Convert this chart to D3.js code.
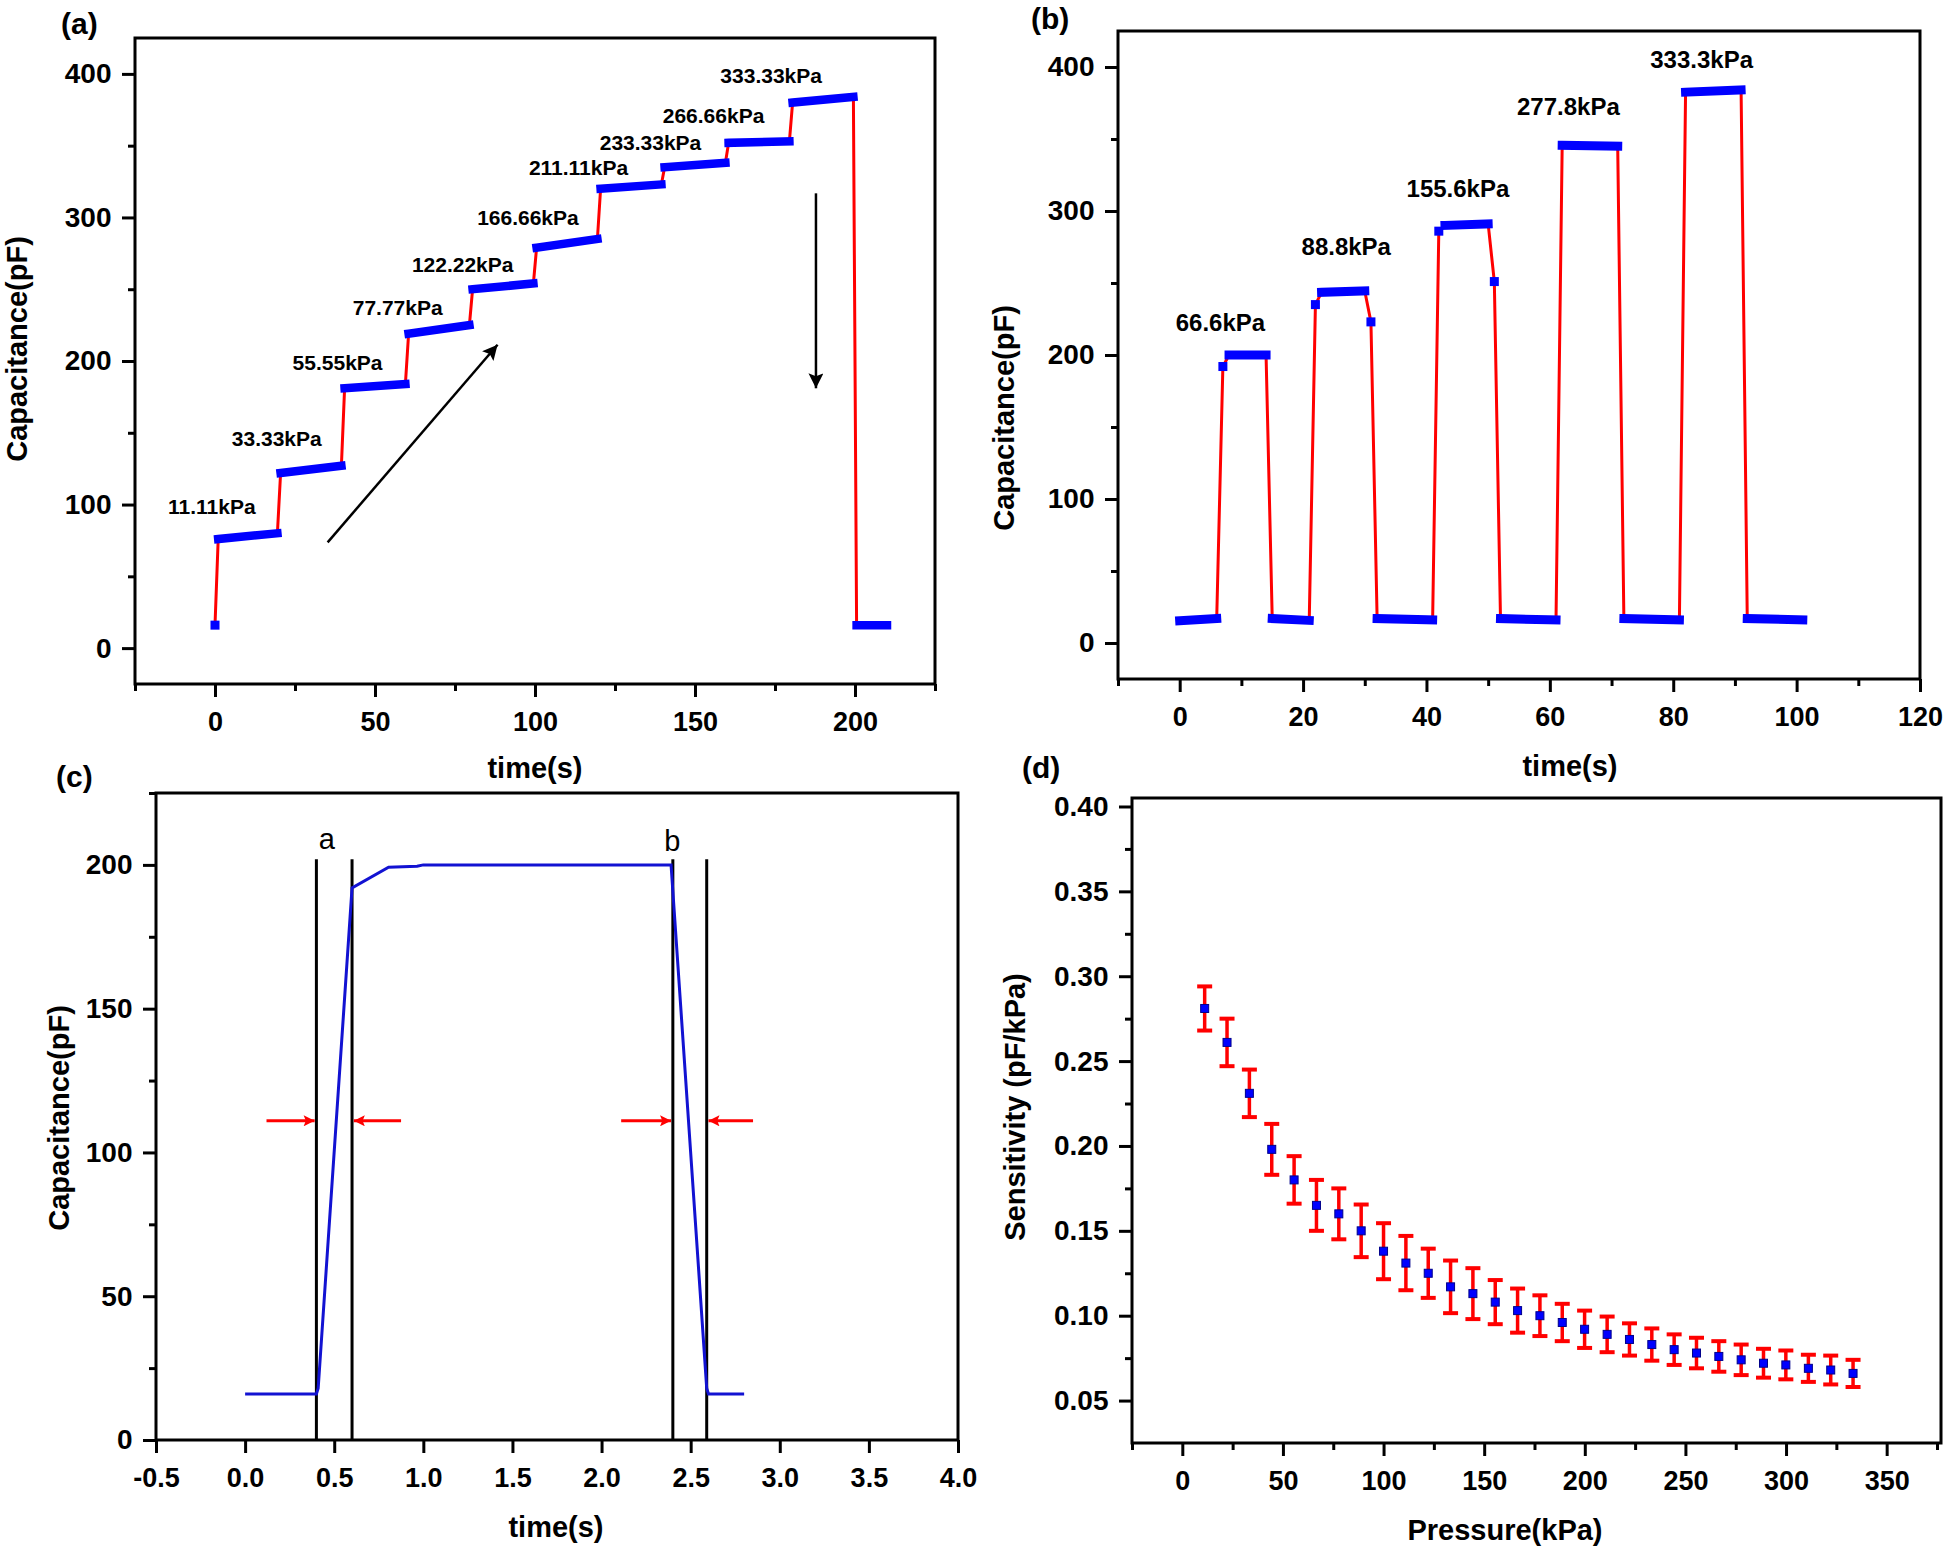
<!DOCTYPE html>
<html><head><meta charset="utf-8">
<script src="https://cdn.jsdelivr.net/npm/d3@7"></script>
<style>
body{margin:0;background:#fff}
svg{display:block}
text{font-family:"Liberation Sans",Arial,Helvetica,sans-serif}
</style>
</head><body>
<svg id="chart" width="1949" height="1553"></svg>
<script>
// ================= DATA =================
// (a) stepwise loading: each pressure step held ~20 s
const stepPressureA = ["11.11kPa","33.33kPa","55.55kPa","77.77kPa","122.22kPa","166.66kPa","211.11kPa","233.33kPa","266.66kPa","333.33kPa"];
const stepLabelTimeA = [-1.0, 19.3, 38.3, 57.1, 77.4, 97.8, 113.6, 136.1, 155.8, 173.8];
const stepLabelCapA  = [99, 146, 199, 237, 267, 300, 335, 352, 371, 399];
const firstTimeA = 0, firstCapA = 16;
const holdStartTimeA = [1, 20.5, 40.5, 60.5, 80.5, 100.5, 120.5, 140.5, 160.5, 180.5, 200.5];
const holdEndTimeA   = [19.5, 39.5, 59.5, 79.5, 99.5, 119.5, 139.5, 159.5, 179.5, 199.5, 210];
const holdStartCapA  = [76, 122, 181, 219, 250, 279, 320, 335, 352, 380, 16];
const holdEndCapA    = [80, 127, 184, 225, 254, 285, 323, 338, 353, 384, 16];
const arrowUpA   = [[35.2, 73.7], [88.3, 211.3]];
const arrowDownA = [[187.8, 316.8], [187.8, 181]];
const xTicksA = [0, 50, 100, 150, 200], xMinorA = [-25, 25, 75, 125, 175, 225];
const yTicksA = [0, 100, 200, 300, 400], yMinorA = [50, 150, 250, 350];

// (b) repeated loading/unloading cycles
const pulsePressureB = ["66.6kPa","88.8kPa","155.6kPa","277.8kPa","333.3kPa"];
const pulseLabelTimeB = [6.6, 27.0, 45.1, 63.0, 84.6];
const pulseLabelCapB  = [222.7, 275.7, 315.5, 372.7, 405.6];
const holdStartTimeB = [0, 8, 15, 23, 32, 43, 52, 62, 72, 82, 92];
const holdEndTimeB   = [6, 14, 21, 30, 41, 50, 61, 71, 81, 91, 101];
const holdStartCapB  = [15.5, 200, 17, 243.5, 17, 290, 17, 345.6, 17, 382.5, 17];
const holdEndCapB    = [17, 200, 15.7, 244.5, 16, 291, 16, 345, 16, 384, 16];
const singleTimeB = [7, 22, 31, 42, 51];
const singleCapB  = [192, 235, 223, 286, 251];
const xTicksB = [0, 20, 40, 60, 80, 100, 120], xMinorB = [-10, 10, 30, 50, 70, 90, 110];
const yTicksB = [0, 100, 200, 300, 400], yMinorB = [50, 150, 250, 350];

// (c) single response curve
const timeC = [0, 0.4, 0.41, 0.6, 0.805, 0.965, 1.0, 2.39, 2.59, 2.6, 2.8];
const capC  = [16, 16, 18, 192, 199.2, 199.5, 200, 200, 18, 16, 16];
const markerLineTimeC = [0.4, 0.6, 2.4, 2.59];
const markerLineTopC = 202;
const markerLetterC = ["a", "b"], markerLetterTimeC = [0.458, 2.397], markerLetterCapC = [205.5, 204.8];
const redArrowFromC = [0.12, 0.875, 2.11, 2.85];
const redArrowToC   = [0.39, 0.61, 2.39, 2.6];
const redArrowCapC  = 111;
const xTicksC = [-0.5, 0, 0.5, 1, 1.5, 2, 2.5, 3, 3.5, 4], xMinorC = [];
const yTicksC = [0, 50, 100, 150, 200], yMinorC = [25, 75, 125, 175, 225];

// (d) sensitivity vs pressure
const pressureD = [11.11, 22.22, 33.33, 44.44, 55.55, 66.66, 77.77, 88.88, 99.99, 111.1, 122.2, 133.3, 144.4, 155.5, 166.6, 177.7, 188.8, 199.9, 211.1, 222.2, 233.3, 244.4, 255.5, 266.6, 277.7, 288.8, 299.9, 311.1, 322.2, 333.3];
const sensD = [0.281, 0.261, 0.231, 0.198, 0.180, 0.165, 0.160, 0.150, 0.138, 0.131, 0.125, 0.117, 0.113, 0.108, 0.103, 0.100, 0.096, 0.092, 0.089, 0.086, 0.083, 0.080, 0.078, 0.076, 0.074, 0.072, 0.071, 0.069, 0.068, 0.066];
const errD  = [0.013, 0.014, 0.014, 0.015, 0.014, 0.015, 0.015, 0.0155, 0.0165, 0.016, 0.0145, 0.0155, 0.015, 0.013, 0.013, 0.012, 0.011, 0.011, 0.0105, 0.0095, 0.0095, 0.009, 0.009, 0.009, 0.009, 0.0085, 0.0085, 0.008, 0.0085, 0.008];
const xTicksD = [0, 50, 100, 150, 200, 250, 300, 350], xMinorD = [-25, 25, 75, 125, 175, 225, 275, 325, 375];
const yTicksD = [0.05, 0.10, 0.15, 0.20, 0.25, 0.30, 0.35, 0.40], yMinorD = [0.075, 0.125, 0.175, 0.225, 0.275, 0.325, 0.375];

// ================= DRAWING =================
const svg = d3.select("#chart");
svg.append("rect").attr("width", 1949).attr("height", 1553).attr("fill", "#fff");
const BLUE = "#0000ff", RED = "#ff0000";
const defs = svg.append("defs");
function arrowMarker(id, color, len, wid) {
  defs.append("marker").attr("id", id).attr("viewBox", "0 0 10 10")
    .attr("refX", 10).attr("refY", 5).attr("markerUnits", "userSpaceOnUse")
    .attr("markerWidth", len).attr("markerHeight", wid).attr("orient", "auto")
    .append("path").attr("d", "M0,0 L10,5 L0,10 L2,5 z").attr("fill", color);
}
arrowMarker("arrowBlack", "#000", 24, 15);
arrowMarker("arrowRed", RED, 12, 11);

function makePanel(c) {
  const x = d3.scaleLinear().domain(c.xDomain).range([c.left, c.right]);
  const y = d3.scaleLinear().domain(c.yDomain).range([c.bottom, c.top]);
  const g = svg.append("g");
  const style = size => sel => {
    sel.select(".domain").remove();
    sel.selectAll(".tick line").attr("stroke", "#000").attr("stroke-width", 3);
    sel.selectAll("text").attr("font-size", size).attr("font-weight", "bold")
      .attr("font-family", '"Liberation Sans",Arial,sans-serif').attr("fill", "#000");
  };
  g.append("g").attr("transform", `translate(0,${c.bottom})`)
    .call(d3.axisBottom(x).tickValues(c.xMinor).tickSize(7).tickFormat(""))
    .call(style(26));
  g.append("g").attr("transform", `translate(0,${c.bottom})`)
    .call(d3.axisBottom(x).tickValues(c.xTicks).tickSize(13).tickPadding(14.5).tickFormat(c.xFmt))
    .call(style(27));
  g.append("g").attr("transform", `translate(${c.left},0)`)
    .call(d3.axisLeft(y).tickValues(c.yMinor).tickSize(7).tickFormat(""))
    .call(style(28));
  g.append("g").attr("transform", `translate(${c.left},0)`)
    .call(d3.axisLeft(y).tickValues(c.yTicks).tickSize(13).tickPadding(10.5).tickFormat(c.yFmt))
    .call(style(28));
  g.append("rect").attr("x", c.left).attr("y", c.top)
    .attr("width", c.right - c.left).attr("height", c.bottom - c.top)
    .attr("fill", "none").attr("stroke", "#000").attr("stroke-width", 3);
  // titles
  g.append("text").attr("x", c.xTitlePos[0]).attr("y", c.xTitlePos[1]).attr("text-anchor", "middle")
    .attr("font-size", 29).attr("font-weight", "bold").text(c.xTitle);
  g.append("text").attr("transform", `translate(${c.yTitlePos[0]},${c.yTitlePos[1]}) rotate(-90)`)
    .attr("text-anchor", "middle").attr("font-size", 29).attr("font-weight", "bold").text(c.yTitle);
  g.append("text").attr("x", c.letterPos[0]).attr("y", c.letterPos[1])
    .attr("font-size", 30).attr("font-weight", "bold").text(c.letter);
  const plot = g.append("g");
  return {x, y, g: plot};
}
const intFmt = d => String(d);

// ----- (a)
const A = makePanel({
  left: 135, right: 935, top: 38, bottom: 684,
  xDomain: [-25, 225], yDomain: [-25, 425],
  xTicks: xTicksA, xMinor: xMinorA, yTicks: yTicksA, yMinor: yMinorA,
  xFmt: intFmt, yFmt: intFmt,
  xTitle: "time(s)", yTitle: "Capacitance(pF)",
  xTitlePos: [535, 778], yTitlePos: [27, 349], letter: "(a)", letterPos: [61, 34]
});
const redPtsA = [[firstTimeA, firstCapA]];
holdStartTimeA.forEach((t, i) => { redPtsA.push([t, holdStartCapA[i]]); redPtsA.push([holdEndTimeA[i], holdEndCapA[i]]); });
const lineA = d3.line().x(d => A.x(d[0])).y(d => A.y(d[1]));
A.g.append("path").attr("d", lineA(redPtsA)).attr("fill", "none").attr("stroke", RED).attr("stroke-width", 3);
holdStartTimeA.forEach((t, i) => {
  A.g.append("path").attr("d", lineA([[t, holdStartCapA[i]], [holdEndTimeA[i], holdEndCapA[i]]]))
    .attr("stroke", BLUE).attr("stroke-width", 8.5).attr("stroke-linecap", "square").attr("fill", "none");
});
A.g.append("rect").attr("x", A.x(firstTimeA) - 4.5).attr("y", A.y(firstCapA) - 4.5)
  .attr("width", 9).attr("height", 9).attr("fill", BLUE);
stepPressureA.forEach((s, i) => {
  A.g.append("text").attr("x", A.x(stepLabelTimeA[i])).attr("y", A.y(stepLabelCapA[i])).attr("dy", "0.36em")
    .attr("text-anchor", "middle").attr("font-size", 21).attr("font-weight", "bold").text(s);
});
[arrowUpA, arrowDownA].forEach(ar => {
  A.g.append("path").attr("d", lineA(ar)).attr("stroke", "#000").attr("stroke-width", 2.5)
    .attr("fill", "none").attr("marker-end", "url(#arrowBlack)");
});

// ----- (b)
const B = makePanel({
  left: 1118, right: 1920, top: 31, bottom: 679,
  xDomain: [-10, 120], yDomain: [-25, 425],
  xTicks: xTicksB, xMinor: xMinorB, yTicks: yTicksB, yMinor: yMinorB,
  xFmt: intFmt, yFmt: intFmt,
  xTitle: "time(s)", yTitle: "Capacitance(pF)",
  xTitlePos: [1570, 776], yTitlePos: [1014, 418], letter: "(b)", letterPos: [1031, 29]
});
const lineB = d3.line().x(d => B.x(d[0])).y(d => B.y(d[1]));
const redPtsB = [];
holdStartTimeB.forEach((t, i) => { redPtsB.push([t, holdStartCapB[i]]); redPtsB.push([holdEndTimeB[i], holdEndCapB[i]]); });
singleTimeB.forEach((t, i) => redPtsB.push([t, singleCapB[i]]));
redPtsB.sort((p, q) => p[0] - q[0]);
B.g.append("path").attr("d", lineB(redPtsB)).attr("fill", "none").attr("stroke", RED).attr("stroke-width", 3);
holdStartTimeB.forEach((t, i) => {
  B.g.append("path").attr("d", lineB([[t, holdStartCapB[i]], [holdEndTimeB[i], holdEndCapB[i]]]))
    .attr("stroke", BLUE).attr("stroke-width", 9).attr("stroke-linecap", "square").attr("fill", "none");
});
singleTimeB.forEach((t, i) => {
  B.g.append("rect").attr("x", B.x(t) - 4.5).attr("y", B.y(singleCapB[i]) - 4.5)
    .attr("width", 9).attr("height", 9).attr("fill", BLUE);
});
pulsePressureB.forEach((s, i) => {
  B.g.append("text").attr("x", B.x(pulseLabelTimeB[i])).attr("y", B.y(pulseLabelCapB[i])).attr("dy", "0.36em")
    .attr("text-anchor", "middle").attr("font-size", 24).attr("font-weight", "bold").text(s);
});

// ----- (c)
const C = makePanel({
  left: 156, right: 958, top: 793, bottom: 1440,
  xDomain: [-0.5, 4.0], yDomain: [0, 225],
  xTicks: xTicksC, xMinor: xMinorC, yTicks: yTicksC, yMinor: yMinorC,
  xFmt: d => d.toFixed(1), yFmt: intFmt,
  xTitle: "time(s)", yTitle: "Capacitance(pF)",
  xTitlePos: [556, 1537], yTitlePos: [69, 1118], letter: "(c)", letterPos: [56, 787]
});
const lineC = d3.line().x(d => C.x(d[0])).y(d => C.y(d[1]));
markerLineTimeC.forEach(t => {
  C.g.append("line").attr("x1", C.x(t)).attr("x2", C.x(t)).attr("y1", C.y(0)).attr("y2", C.y(markerLineTopC))
    .attr("stroke", "#000").attr("stroke-width", 3);
});
C.g.append("path").attr("d", lineC(timeC.map((t, i) => [t, capC[i]])))
  .attr("fill", "none").attr("stroke", "#1212d2").attr("stroke-width", 3);
markerLetterC.forEach((s, i) => {
  C.g.append("text").attr("x", C.x(markerLetterTimeC[i])).attr("y", C.y(markerLetterCapC[i]))
    .attr("text-anchor", "middle").attr("font-size", 29).text(s);
});
redArrowFromC.forEach((t, i) => {
  C.g.append("path").attr("d", lineC([[t, redArrowCapC], [redArrowToC[i], redArrowCapC]]))
    .attr("stroke", RED).attr("stroke-width", 3).attr("fill", "none").attr("marker-end", "url(#arrowRed)");
});

// ----- (d)
const D = makePanel({
  left: 1132, right: 1941, top: 798, bottom: 1443,
  xDomain: [-25, 377], yDomain: [0.025, 0.405],
  xTicks: xTicksD, xMinor: xMinorD, yTicks: yTicksD, yMinor: yMinorD,
  xFmt: intFmt, yFmt: d => d.toFixed(2),
  xTitle: "Pressure(kPa)", yTitle: "Sensitivity (pF/kPa)",
  xTitlePos: [1505, 1540], yTitlePos: [1025, 1107], letter: "(d)", letterPos: [1022, 778]
});
const errG = D.g.append("g").attr("stroke", RED).attr("stroke-width", 3.5).attr("fill", "none");
pressureD.forEach((p, i) => {
  const cx = D.x(p), yt = D.y(sensD[i] + errD[i]), yb = D.y(sensD[i] - errD[i]);
  errG.append("line").attr("x1", cx).attr("x2", cx).attr("y1", yt).attr("y2", yb);
  errG.append("line").attr("x1", cx - 7.5).attr("x2", cx + 7.5).attr("y1", yt).attr("y2", yt).attr("stroke-width", 4);
  errG.append("line").attr("x1", cx - 7.5).attr("x2", cx + 7.5).attr("y1", yb).attr("y2", yb).attr("stroke-width", 4);
});
D.g.selectAll("rect.pt").data(pressureD).join("rect").attr("class", "pt")
  .attr("x", (p) => D.x(p) - 4).attr("y", (p, i) => D.y(sensD[i]) - 4)
  .attr("width", 8).attr("height", 8).attr("fill", BLUE).attr("stroke", "#00008b").attr("stroke-width", 1);
</script>
</body></html>
